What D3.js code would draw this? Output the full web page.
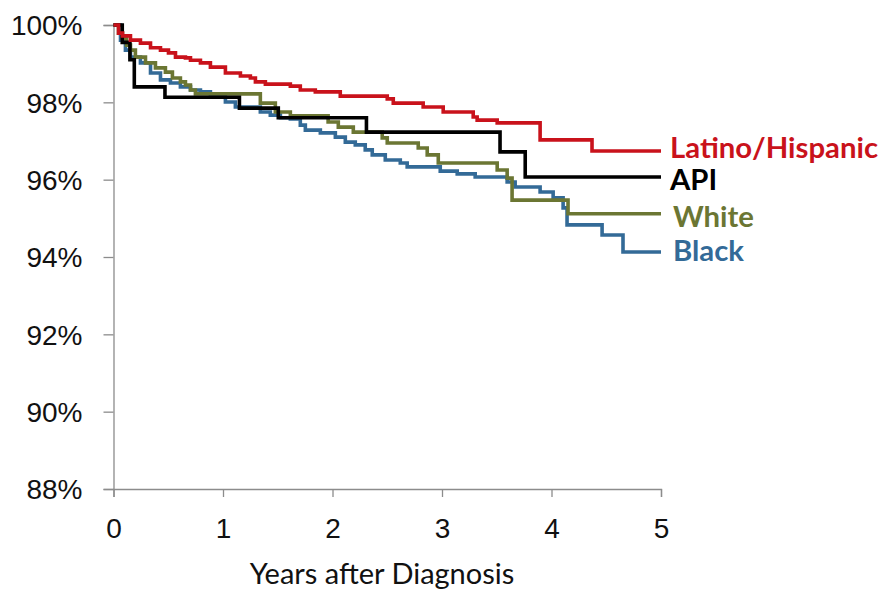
<!DOCTYPE html>
<html lang="en">
<head>
  <meta charset="utf-8">
  <title>survival by race</title>
  <style>
body {
  margin: 0;
  background: #fff;
  font-family: Lato, "Open Sans", sans-serif;
}
.tick text { font-size: 28px; fill: #111; }
.legend { font-size: 29.3px; font-weight: 700; }
  </style>
  <script src="https://cdn.jsdelivr.net/npm/d3@7"></script>
</head>
<body>
<div id="chart"></div>
<script>

// years after diagnosis, survival %  (step points)
var latino = [[0,100],[0.046,99.79],[0.082,99.72],[0.155,99.61],[0.246,99.53],[0.338,99.41],[0.429,99.35],
  [0.502,99.28],[0.566,99.17],[0.657,99.15],[0.703,99.09],[0.794,99.02],[0.885,98.91],[1.022,98.76],
  [1.159,98.68],[1.25,98.63],[1.296,98.53],[1.387,98.47],[1.615,98.42],[1.706,98.32],[1.843,98.27],
  [2.071,98.16],[2.5,98.09],[2.555,97.98],[2.828,97.88],[3.011,97.75],[3.285,97.62],[3.321,97.54],
  [3.504,97.47],[3.896,97.03],[4.37,96.74],[5,96.74]];
var api = [[0,100],[0.08,99.55],[0.15,99.1],[0.19,98.4],[0.47,98.13],[1.15,97.85],[1.505,97.6],
  [2.31,97.23],[3.53,96.72],[3.76,96.07],[5,96.07]];
var white = [[0,100],[0.046,99.79],[0.082,99.66],[0.119,99.48],[0.155,99.35],[0.2,99.17],[0.292,99.02],
  [0.383,98.89],[0.474,98.78],[0.538,98.63],[0.611,98.53],[0.657,98.45],[0.703,98.32],[0.748,98.22],
  [1.341,97.98],[1.478,97.75],[1.615,97.65],[1.96,97.49],[2.053,97.36],[2.19,97.23],[2.454,97.08],
  [2.5,96.95],[2.783,96.82],[2.865,96.64],[2.966,96.43],[3.504,96.25],[3.595,96.04],[3.64,95.47],
  [4.151,95.12],[5,95.12]];
var black = [[0,100],[0.064,99.61],[0.109,99.35],[0.155,99.17],[0.246,99.02],[0.338,98.76],[0.429,98.58],
  [0.52,98.5],[0.611,98.4],[0.703,98.32],[0.794,98.27],[0.885,98.14],[1.022,98.01],[1.113,97.88],
  [1.341,97.75],[1.432,97.67],[1.524,97.6],[1.615,97.57],[1.706,97.41],[1.752,97.28],[1.889,97.21],
  [2.026,97.1],[2.117,96.97],[2.208,96.9],[2.299,96.77],[2.363,96.64],[2.482,96.51],[2.619,96.43],
  [2.682,96.33],[2.984,96.22],[3.139,96.15],[3.303,96.07],[3.595,95.94],[3.668,95.81],[3.896,95.68],
  [4.015,95.53],[4.106,95.27],[4.142,94.83],[4.462,94.57],[4.653,94.13],[5,94.13]];

var seriesNames = ["Latino/Hispanic", "API", "White", "Black"];
var seriesColors = ["#c9121b", "#000000", "#6b7633", "#336a97"];
var xTicks = [0, 1, 2, 3, 4, 5];
var yTicks = [88, 90, 92, 94, 96, 98, 100];

var w = 883, h = 589;
var svg = d3.select('#chart').append('svg')
  .attr('width', w)
  .attr('height', h);

var x = d3.scaleLinear().domain([0, 5]).range([113.5, 661]);
var y = d3.scaleLinear().domain([88, 100]).range([489, 25]);

// y axis
var yAxis = svg.append('g')
  .attr('transform', 'translate(' + x(0) + ',0)')
  .call(d3.axisLeft(y).tickValues(yTicks).tickSize(10).tickPadding(21)
    .tickFormat(function(d) { return d + '%'; }));

// x axis
var xAxis = svg.append('g')
  .attr('transform', 'translate(0,' + y(88) + ')')
  .call(d3.axisBottom(x).tickValues(xTicks).tickSize(8).tickPadding(21)
    .tickFormat(d3.format('d')));

svg.selectAll('.domain, .tick line').attr('stroke', '#8c8c8c').attr('stroke-width', 1.3);
yAxis.selectAll('.tick text').attr('dy', '0.35em');

svg.append('text')
  .attr('x', 382)
  .attr('y', 584)
  .attr('text-anchor', 'middle')
  .style('font-size', '29px')
  .style('fill', '#111')
  .text('Years after Diagnosis');

var allSeries = [latino, api, white, black];
var line = d3.line()
  .x(function(d) { return x(d[0]); })
  .y(function(d) { return y(d[1]); })
  .curve(d3.curveStepAfter);

// draw back to front so red ends on top like the original
[3, 2, 1, 0].forEach(function(i) {
  svg.append('path')
    .datum(allSeries[i])
    .attr('fill', 'none')
    .attr('stroke', seriesColors[i])
    .attr('stroke-width', 3.6)
    .attr('d', line);
});

var labelOffsets = [-3, 3, 3, -1];
var labelX = [670, 670, 673, 673];
seriesNames.forEach(function(name, i) {
  var s = allSeries[i];
  svg.append('text')
    .attr('class', 'legend')
    .attr('x', labelX[i])
    .attr('y', y(s[s.length - 1][1]) + labelOffsets[i])
    .attr('dy', '0.35em')
    .style('fill', seriesColors[i])
    .text(name);
});

</script>
</body>
</html>
